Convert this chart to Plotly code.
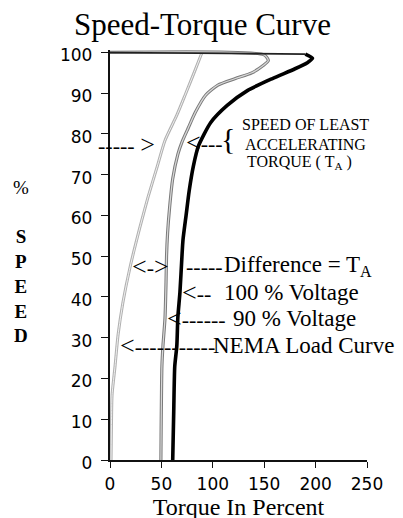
import plotly.graph_objects as go

# ---- data (speed %, torque %) ----
v100_speed  = [100, 99.6, 98.6, 97.5, 96, 93.6, 90.7, 87, 82.8, 77, 72, 66, 60, 54, 50, 41, 35, 28, 23, 12, 0]
v100_torque = [0, 190, 197, 192, 180, 158, 134, 114, 98, 86, 81, 77, 74, 71, 70, 68, 66, 65, 63, 62, 61]

v90_speed  = [100, 99.4, 98, 96.8, 95, 93.6, 92, 89.5, 85.3, 81.4, 78, 75, 69, 62, 55.6, 50, 43.6, 34.8, 28, 23, 0]
v90_torque = [0, 150, 154, 149, 138, 122, 105, 93, 83, 76, 70, 66, 61, 58, 56, 55, 54.5, 53.5, 51.5, 50.5, 49.5]

nema_speed  = [0, 10, 16, 23, 30.6, 38.7, 47.3, 57, 64.5, 71.8, 78.4, 84.6, 89.5, 95.6, 100]
nema_torque = [1, 1.5, 2, 4.9, 7.8, 12.6, 19.5, 29, 37, 45.7, 53.5, 65, 73, 82.7, 89.5]

x_ticks = [0, 50, 100, 150, 200, 250]
y_ticks = [0, 10, 20, 30, 40, 50, 60, 70, 80, 90, 100]

X_MAX, Y_MAX = 250, 100.6
SERIF = "Liberation Serif"
SANS = "DejaVu Sans"

fig = go.Figure()

def outlined(xs, ys, outer, inner, w_out, w_in):
    fig.add_trace(go.Scatter(x=xs, y=ys, mode="lines", line=dict(color=outer, width=w_out, shape="spline", smoothing=0.6),
                             hoverinfo="skip", showlegend=False))
    fig.add_trace(go.Scatter(x=xs, y=ys, mode="lines", line=dict(color=inner, width=w_in, shape="spline", smoothing=0.6),
                             hoverinfo="skip", showlegend=False))

# NEMA load curve (light, hollow look)
outlined(nema_torque, nema_speed, "#b0b0b0", "#f0f0f0", 3.0, 1.0)
# 90 % voltage (grey, hollow look)
outlined(v90_torque, v90_speed, "#7a7a7a", "#d8d8d8", 3.2, 1.2)
# 100 % voltage: thin synchronous segment + bold curve
fig.add_trace(go.Scatter(x=v100_torque[:2], y=v100_speed[:2], mode="lines",
                         line=dict(color="#222", width=1.6), hoverinfo="skip", showlegend=False))
fig.add_trace(go.Scatter(x=v100_torque[1:], y=v100_speed[1:], mode="lines",
                         line=dict(color="#000", width=3.6, shape="spline", smoothing=0.6),
                         hoverinfo="skip", showlegend=False))

ann = []
def txt(x, y, t, size, xanchor="left", font=SERIF, yanchor="middle"):
    # positions given in data units, placed in paper coordinates so that
    # texts outside the axes ranges are still drawn
    ann.append(dict(x=x / X_MAX, y=y / Y_MAX, xref="paper", yref="paper", text=t, showarrow=False,
                    xanchor=xanchor, yanchor=yanchor,
                    font=dict(family=font, size=size, color="#000")))

LT = '<span style="font-size:26px">&lt;</span>'
GT = '<span style="font-size:26px">&gt;</span>'

# title & axis titles
txt(89.5, 106.9, "Speed-Torque Curve", 31, "center")
txt(-86.6, 48.6, "%<br><br><b>S</b><br><b>P</b><br><b>E</b><br><b>E</b><br><b>D</b>", 19, "center")

# speed of least accelerating torque callout
txt(46, 77.4, "----- " + GT, 22, "right")
txt(72, 77.8, LT + "---", 22, "left")
txt(114.8, 79.0, "{", 30, "center")
txt(126.5, 82.4, "SPEED OF LEAST", 16)
txt(129.4, 77.3, "ACCELERATING", 16)
txt(131.3, 73.1, "TORQUE ( T<sub>A</sub> )", 16)

# lower callouts
txt(19.5, 47.4, LT + "-" + GT, 22)
txt(72, 47.6, "-----", 22)
txt(109, 47.6, "Difference = T<sub>A</sub>", 23)
txt(68, 41.2, LT + "--", 22)
txt(109, 41.2, "100 % Voltage", 23)
txt(53.5, 34.8, LT + "------", 22)
txt(118, 34.8, "90 % Voltage", 23)
txt(7.8, 28.2, LT + "-----------", 22)
txt(98.5, 28.2, "NEMA Load Curve", 23)

# the page body has an 8px margin, so the figure is shifted by 8px; margins compensate
fig.update_layout(
    width=403, height=518,
    margin=dict(l=102, r=44, t=42, b=66),
    paper_bgcolor="white", plot_bgcolor="white",
    annotations=ann,
    showlegend=False,
)
fig.update_xaxes(range=[0, X_MAX], tickvals=x_ticks, ticktext=[str(v) for v in x_ticks],
                 title=dict(text="Torque In Percent", font=dict(family=SERIF, size=24, color="#000"), standoff=0),
                 showgrid=False, zeroline=False, showline=True, linecolor="#111", linewidth=1.5,
                 ticks="outside", ticklen=6, tickcolor="#111", tickwidth=1,
                 tickfont=dict(family=SANS, size=17, color="#000"), ticklabelstandoff=2)
fig.update_yaxes(range=[0, Y_MAX], tickvals=y_ticks, ticktext=[str(v) + "\u00a0" for v in y_ticks],
                 showgrid=False, zeroline=False, showline=True, linecolor="#111", linewidth=1.5,
                 ticks="outside", ticklen=7, tickcolor="#111", tickwidth=1,
                 tickfont=dict(family=SANS, size=17, color="#000"), ticklabelshift=3)

fig.write_html("out.html")
